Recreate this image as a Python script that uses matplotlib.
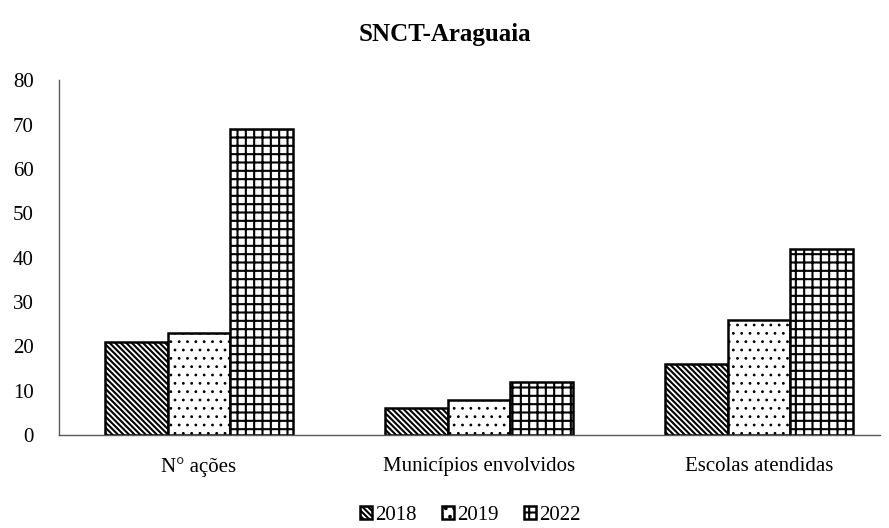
import matplotlib
matplotlib.use("Agg")
import matplotlib.pyplot as plt
import numpy as np

categories = ["N° ações", "Municípios envolvidos", "Escolas atendidas"]
years = ["2018", "2019", "2022"]
v2018 = [21, 6, 16]
v2019 = [23, 8, 26]
v2022 = [69, 12, 42]

plt.rcParams['font.family'] = ['Liberation Serif', 'DejaVu Serif']
plt.rcParams['hatch.linewidth'] = 1.5

fig = plt.figure(figsize=(8.89, 5.28), dpi=100)
ax = fig.add_axes([59 / 889, 0.176, (880 - 59) / 889, 0.672])

x = np.arange(len(categories))
w = 0.224
hatches = ['\\' * 6, '..', '++']
hlw = [1.5, 0.8, 1.5]
series = [v2018, v2019, v2022]
for i, (vals, h, lab) in enumerate(zip(series, hatches, years)):
    bars = ax.bar(x + (i - 1) * w, vals, w, color='white', edgecolor='black',
                  hatch=h, linewidth=1.8, label=lab)
    for b in bars:
        if hasattr(b, 'set_hatch_linewidth'):
            b.set_hatch_linewidth(hlw[i])

ax.set_xlim(-0.5, (880 - 59) / 280 - 0.5)
ax.set_ylim(0, 80)
ax.set_yticks(range(0, 81, 10))
ax.set_xticks(x)
ax.set_xticklabels(categories)
ax.tick_params(axis='both', length=0, labelsize=15)
ax.tick_params(axis='y', pad=18)
ax.tick_params(axis='x', pad=16)
for s in ['top', 'right']:
    ax.spines[s].set_visible(False)
for s in ['left', 'bottom']:
    ax.spines[s].set_color('#595959')
    ax.spines[s].set_linewidth(1.0)

fig.text(0.5, 1 - 35 / 528, "SNCT-Araguaia", fontsize=18, fontweight='bold',
         ha='center', va='center')
fig.legend(loc='lower center', bbox_to_anchor=(0.529, -0.03), ncol=3, frameon=False,
           fontsize=15, handlelength=0.6, handleheight=0.6, handletextpad=0.15,
           columnspacing=1.2)

fig.savefig("out.png", dpi=100)
